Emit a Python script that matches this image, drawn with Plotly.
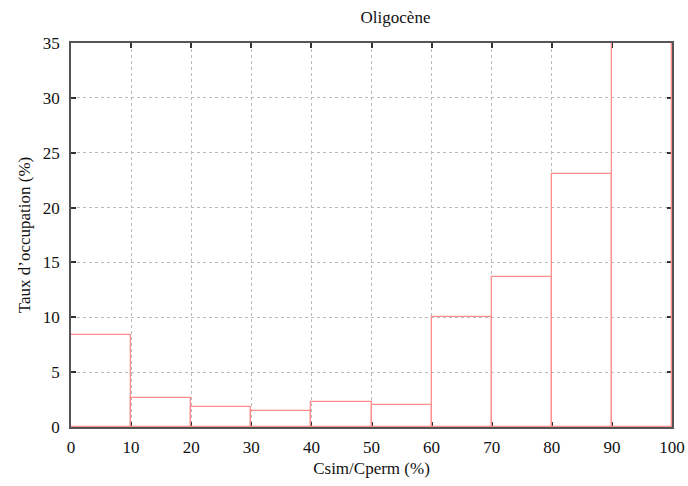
import plotly.graph_objects as go

bin_starts = [0, 10, 20, 30, 40, 50, 60, 70, 80, 90]
occupation = [8.4, 2.6, 1.8, 1.5, 2.3, 2.0, 10.0, 13.7, 23.1, 35.0]
x_ticks = [0, 10, 20, 30, 40, 50, 60, 70, 80, 90, 100]
y_ticks = [0, 5, 10, 15, 20, 25, 30, 35]

font_family = "Liberation Serif, Times New Roman, serif"
fs = 17

fig = go.Figure()
fig.add_trace(go.Bar(
    x=bin_starts, y=occupation, width=10, offset=0,
    marker=dict(color="rgba(0,0,0,0)", line=dict(color="#ff8f8f", width=1.3)),
    cliponaxis=False,
    showlegend=False, hoverinfo="skip"))

axis_common = dict(
    showline=True, linecolor="#555555", linewidth=1.5, mirror="ticks",
    ticks="inside", ticklen=5, tickcolor="#333333", tickwidth=1.5,
    showgrid=True, gridcolor="#bbbbbb", griddash="dot", gridwidth=1,
    zeroline=False, tickfont=dict(family=font_family, size=fs, color="#111111"),
    layer="below traces", automargin=False)

fig.update_layout(
    width=688, height=486,
    margin=dict(l=71, r=16, t=43, b=59, autoexpand=False),
    plot_bgcolor="white", paper_bgcolor="white",
    font=dict(family=font_family, size=fs, color="#111111"),
    title=dict(text="Oligocène", x=(71 + 672) / 2 / 688, xanchor="center", xref="paper",
               y=1 - 17 / 486, yanchor="middle", automargin=False,
               font=dict(family=font_family, size=fs)),
    xaxis=dict(range=[0, 100], tickvals=x_ticks, ticklabelstandoff=4,
               title=dict(text="Csim/Cperm (%)", standoff=6,
                          font=dict(family=font_family, size=fs)),
               **axis_common),
    yaxis=dict(range=[0, 35], tickvals=y_ticks, ticklabelstandoff=6,
               title=dict(text="Taux d’occupation (%)", standoff=8,
                          font=dict(family=font_family, size=fs)),
               **axis_common),
    bargap=0,
)

fig.write_html("out.html", config={"displayModeBar": False},
               post_script="document.body.style.margin='0px';")
